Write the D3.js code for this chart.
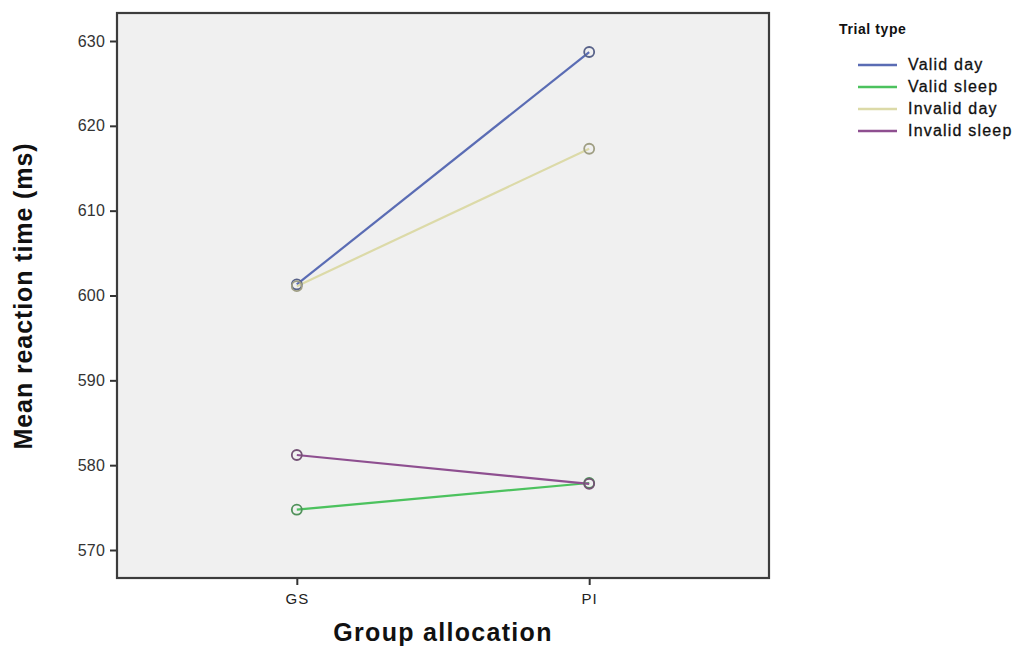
<!DOCTYPE html>
<html><head><meta charset="utf-8">
<script src="https://cdn.jsdelivr.net/npm/d3@7"></script>
<style>body{margin:0;background:#fff;} svg{display:block;}</style>
</head><body>
<svg id="c" width="1025" height="648"></svg>
<script>
const groups = ["GS", "PI"];
const seriesNames = ["Valid day", "Valid sleep", "Invalid day", "Invalid sleep"];
const validDay = [601.3, 628.7];
const validSleep = [574.75, 577.9];
const invalidDay = [601.1, 617.3];
const invalidSleep = [581.2, 577.8];
const yTicks = [570, 580, 590, 600, 610, 620, 630];
const colors = ["#5a6cb4", "#4cc25e", "#dcdaa8", "#8e4f90"];
const seriesValues = [validDay, validSleep, invalidDay, invalidSleep];

const svg = d3.select("#c");
const L = 117, R = 769, T = 13, B = 578;
const font = "'Liberation Sans', Arial, sans-serif";

const x = d3.scalePoint().domain(groups).range([L, R]).padding(0.615);
const y = d3.scaleLinear().domain([566.7, 633.3]).range([B, T]);

svg.append("rect").attr("x", L).attr("y", T).attr("width", R - L).attr("height", B - T)
  .attr("fill", "#f0f0f0");

// Y axis
const ya = svg.append("g").attr("transform", `translate(${L},0)`)
  .call(d3.axisLeft(y).tickValues(yTicks).tickSize(7).tickPadding(5).tickFormat(d3.format("d")));
ya.select(".domain").remove();
ya.selectAll("line").attr("stroke", "#333").attr("stroke-width", 2);
ya.selectAll("text").attr("font-family", font).attr("font-size", 16).attr("fill", "#333")
  .attr("letter-spacing", "0.2px");

// X axis
const xa = svg.append("g").attr("transform", `translate(0,${B})`)
  .call(d3.axisBottom(x).tickSize(7).tickPadding(8));
xa.select(".domain").remove();
xa.selectAll("line").attr("stroke", "#333").attr("stroke-width", 2);
xa.selectAll("text").attr("font-family", font).attr("font-size", 15).attr("fill", "#222")
  .attr("letter-spacing", "1px");

// Border
svg.append("rect").attr("x", L).attr("y", T).attr("width", R - L).attr("height", B - T)
  .attr("fill", "none").attr("stroke", "#3c3c3c").attr("stroke-width", 2.2);

// Lines
const line = d3.line().x((d, i) => x(groups[i])).y(d => y(d));
seriesValues.forEach((vals, s) => {
  svg.append("path").datum(vals).attr("d", line).attr("fill", "none")
    .attr("stroke", colors[s]).attr("stroke-width", 2.2);
});
seriesValues.forEach((vals, s) => {
  svg.selectAll(null).data(vals).enter().append("circle")
    .attr("cx", (d, i) => x(groups[i])).attr("cy", d => y(d)).attr("r", 5)
    .attr("fill", "none").attr("stroke", d3.interpolateRgb(colors[s], "#555")(0.45))
    .attr("stroke-width", 1.8);
});

// Titles
svg.append("text").attr("x", (L + R) / 2).attr("y", 641).attr("text-anchor", "middle")
  .attr("font-family", font).attr("font-size", 25).attr("font-weight", "bold")
  .attr("letter-spacing", "1.3px").attr("fill", "#111").text("Group allocation");
svg.append("text").attr("transform", "translate(32,296) rotate(-90)").attr("text-anchor", "middle")
  .attr("font-family", font).attr("font-size", 25).attr("font-weight", "bold")
  .attr("letter-spacing", "0.9px").attr("fill", "#111").text("Mean reaction time (ms)");

// Legend
const lg = svg.append("g");
lg.append("text").attr("x", 839).attr("y", 34).attr("font-family", font).attr("font-size", 14)
  .attr("font-weight", "bold").attr("letter-spacing", "0.6px").attr("fill", "#111").text("Trial type");
seriesNames.forEach((n, i) => {
  const yy = 64 + i * 22;
  lg.append("line").attr("x1", 858).attr("x2", 897).attr("y1", yy + 1).attr("y2", yy + 1)
    .attr("stroke", colors[i]).attr("stroke-width", 2.5);
  lg.append("text").attr("x", 908).attr("y", yy + 6).attr("font-family", font).attr("font-size", 16)
    .attr("letter-spacing", "1.2px").attr("fill", "#111").attr("stroke", "#111")
    .attr("stroke-width", 0.3).text(n);
});
</script>
</body></html>
